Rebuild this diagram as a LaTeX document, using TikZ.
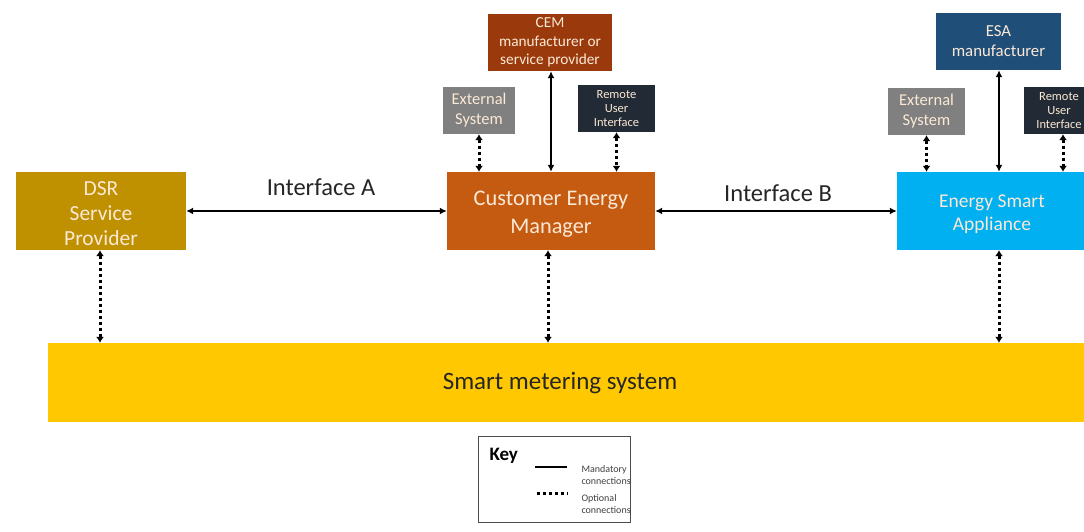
\documentclass[tikz,border=0pt]{standalone}
\usepackage{fontspec}
\setmainfont{Carlito}
\usetikzlibrary{arrows.meta}
\definecolor{dsr}{HTML}{BF9000}
\definecolor{cem}{HTML}{C55A11}
\definecolor{cemman}{HTML}{9A3A0C}
\definecolor{esa}{HTML}{00B0F0}
\definecolor{esaman}{HTML}{1F4E79}
\definecolor{ext}{HTML}{808080}
\definecolor{rui}{HTML}{222A35}
\definecolor{sms}{HTML}{FFC800}
\definecolor{boxtxt}{HTML}{FBE9D6}
\tikzset{
  box/.style={rectangle, inner sep=0pt, align=center, text=boxtxt},
  boxlbl/.style={text=boxtxt, align=center, inner sep=0pt, yshift=-3pt},
  solidc/.style={line width=2pt, {Latex[length=7pt,width=7pt]}-{Latex[length=7pt,width=7pt]}},
  dotc/.style={line width=3pt, dash pattern=on 3pt off 3pt, {Latex[length=6pt,width=8pt]}-{Latex[length=6pt,width=8pt]}},
}
\begin{document}
\begin{tikzpicture}[x=1pt,y=-1pt]
\useasboundingbox[fill=white] (0,0) rectangle (1084,532);
% main boxes
\node[box, fill=dsr, minimum width=170pt, minimum height=78pt,
  label={[boxlbl, font=\fontsize{21.5}{25}\selectfont]center:DSR\\Service\\Provider}] (dsr) at (101,211) {};
\node[box, fill=cem, minimum width=208pt, minimum height=78pt,
  label={[boxlbl, font=\fontsize{22.3}{28}\selectfont]center:Customer Energy\\Manager}] (cem) at (551,211) {};
\node[box, fill=esa, minimum width=190pt, minimum height=78pt,
  label={[boxlbl, font=\fontsize{19.5}{23}\selectfont]center:Energy Smart\\Appliance}] (esa) at (992,211) {};
% top boxes
\node[box, fill=cemman, minimum width=124pt, minimum height=57pt, font=\fontsize{15.3}{18.5}\selectfont] (cemman) at (550,42.5) {CEM\\manufacturer or\\service provider};
\node[box, fill=esaman, minimum width=125pt, minimum height=57pt, font=\fontsize{16.8}{20}\selectfont] (esaman) at (998.5,41.5) {ESA\\manufacturer};
\node[box, fill=ext, minimum width=72pt, minimum height=47pt, font=\fontsize{16.5}{20}\selectfont] (ext1) at (479,110.5) {External\\System};
\node[box, fill=rui, minimum width=77pt, minimum height=47pt, font=\fontsize{12.5}{14}\selectfont] (rui1) at (616.5,108.5) {Remote\\User\\Interface};
\node[box, fill=ext, minimum width=77pt, minimum height=47pt, font=\fontsize{16.5}{20}\selectfont] (ext2) at (926.5,111.5) {External\\System};
\node[box, fill=rui, minimum width=70pt, minimum height=47pt, font=\fontsize{12.5}{14}\selectfont] (rui2) at (1059,110.5) {Remote\\User\\Interface};
% smart metering
\node[rectangle, fill=sms, minimum width=1036pt, minimum height=79pt, inner sep=0pt] (sms) at (566,382.5) {};
\node[font=\fontsize{25}{28}\selectfont, text=black!85, inner sep=0pt] (smst) at (560,383) {Smart metering system};
% labels
\node[font=\fontsize{24.5}{28}\selectfont, text=black!85] (lA) at (321,187) {Interface A};
\node[font=\fontsize{24.5}{28}\selectfont, text=black!85] (lB) at (778,193) {Interface B};
% connectors
\draw[solidc] (dsr.east) -- (cem.west);
\draw[solidc] (cem.east) -- (esa.west);
\draw[solidc] (cemman.south -| 551,0) -- (cem.north -| 551,0);
\draw[solidc] (esaman.south -| 999,0) -- (esa.north -| 999,0);
\draw[dotc] (ext1.south) -- (ext1.south |- cem.north);
\draw[dotc] (rui1.south) -- (rui1.south |- cem.north);
\draw[dotc] (ext2.south) -- (ext2.south |- esa.north);
\draw[dotc] (rui2.south -| 1063,0) -- (esa.north -| 1063,0);
\draw[dotc] (dsr.south -| 100,0) -- (sms.north -| 100,0);
\draw[dotc] (cem.south -| 548,0) -- (sms.north -| 548,0);
\draw[dotc] (esa.south -| 999,0) -- (sms.north -| 999,0);
% key
\node[draw=black!70, line width=1pt, minimum width=152pt, minimum height=86pt, inner sep=0pt] (key) at (554,479) {};
\node[font=\bfseries\fontsize{19}{21}\selectfont, anchor=west] (keyt) at (486,456) {Key};
\coordinate (m1) at (535,467);
\coordinate (m2) at (567,467);
\draw[line width=2.5pt] (m1) -- (m2);
\coordinate (o1) at (537,493);
\coordinate (o2) at (568,493);
\draw[line width=3pt, dash pattern=on 3pt off 3pt] (o1) -- (o2);
\node[font=\fontsize{10}{12}\selectfont, anchor=west, align=left, text=black!75] (mt) at (578,475) {Mandatory\\connections};
\node[font=\fontsize{10}{12}\selectfont, anchor=west, align=left, text=black!75] (ot) at (578,504) {Optional\\connections};
\end{tikzpicture}
\end{document}
